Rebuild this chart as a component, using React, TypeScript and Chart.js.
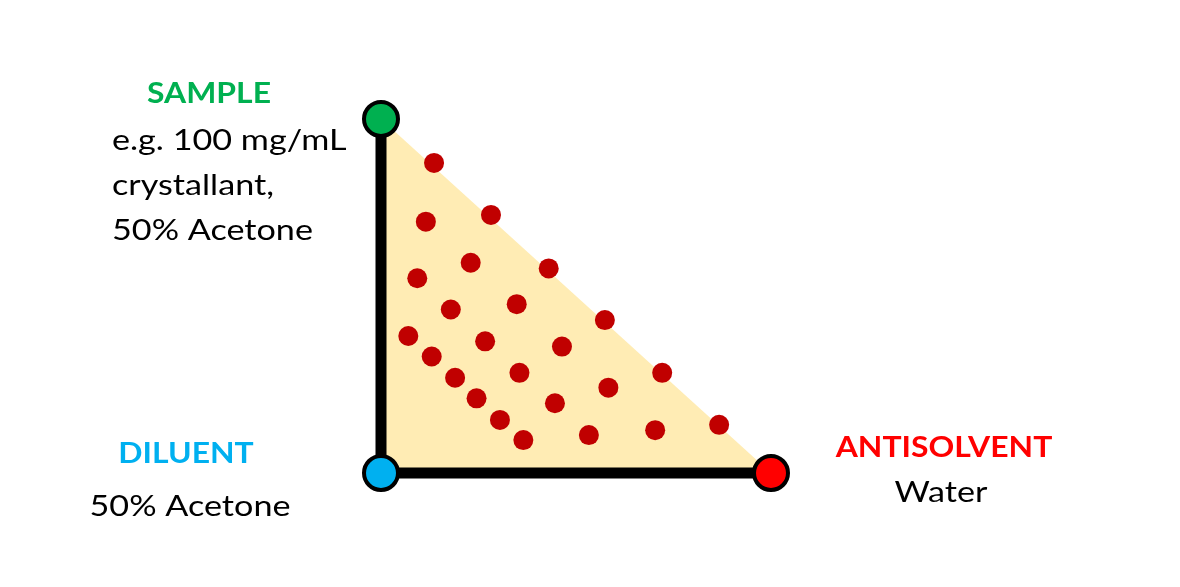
import React, { useEffect, useRef } from 'react';
import { Chart, registerables } from 'chart.js';

Chart.register(...registerables);

// corners of the design space: x = antisolvent fraction, y = sample fraction
const cornerNames = ['SAMPLE', 'DILUENT', 'ANTISOLVENT'];
const cornerX = [0, 0, 1];
const cornerY = [1, 0, 0];
const cornerColors = ['#00B050', '#00B0F0', '#FF0000'];

// screening conditions (antisolvent fraction, sample fraction)
const sampleX = [0.136, 0.115, 0.282, 0.093, 0.23, 0.43, 0.179, 0.348, 0.574, 0.07, 0.267, 0.464,
  0.13, 0.355, 0.721, 0.19, 0.583, 0.245, 0.446, 0.305, 0.867, 0.365, 0.533, 0.703];
const sampleY = [0.876, 0.71, 0.729, 0.55, 0.594, 0.578, 0.462, 0.477, 0.432, 0.387, 0.372, 0.357,
  0.329, 0.283, 0.283, 0.269, 0.241, 0.211, 0.197, 0.15, 0.136, 0.093, 0.107, 0.121];

const labels = [
  { text: cornerNames[0], x: 209, y: 103, color: '#00B050', bold: true, align: 'center' },
  { text: 'e.g. 100 mg/mL', x: 112, y: 150, color: '#000', bold: false, align: 'left' },
  { text: 'crystallant,', x: 112, y: 195, color: '#000', bold: false, align: 'left' },
  { text: '50% Acetone', x: 112, y: 240, color: '#000', bold: false, align: 'left' },
  { text: cornerNames[1], x: 186, y: 463, color: '#00B0F0', bold: true, align: 'center' },
  { text: '50% Acetone', x: 190, y: 516, color: '#000', bold: false, align: 'center' },
  { text: cornerNames[2], x: 944, y: 457, color: '#FF0000', bold: true, align: 'center' },
  { text: 'Water', x: 941, y: 502, color: '#000', bold: false, align: 'center' },
];

const textPlugin = {
  id: 'cornerText',
  afterDraw(chart: Chart) {
    const ctx = chart.ctx;
    labels.forEach((l) => {
      ctx.save();
      ctx.font = (l.bold ? 'bold 29px' : '28px') + ' Lato, sans-serif';
      ctx.fillStyle = l.color;
      ctx.textAlign = l.align as CanvasTextAlign;
      ctx.textBaseline = 'alphabetic';
      // the source lettering is set wider than Lato
      ctx.translate(l.x, l.y);
      ctx.scale(l.bold ? 1.1 : 1.22, 1);
      ctx.fillText(l.text, 0, 0);
      ctx.restore();
    });
  },
};

const App: React.FC = () => {
  const chartRef = useRef<HTMLCanvasElement | null>(null);
  const chartInstance = useRef<Chart | null>(null);

  useEffect(() => {
    const ctx = chartRef.current?.getContext('2d');
    if (chartInstance.current) {
      chartInstance.current.destroy();
    }
    if (ctx) {
      chartInstance.current = new Chart(ctx, {
        type: 'scatter',
        data: {
          datasets: [
            {
              label: 'Stocks',
              data: cornerX.map((x, i) => ({ x, y: cornerY[i] })),
              pointRadius: 17,
              pointBackgroundColor: cornerColors,
              pointBorderColor: '#000',
              pointBorderWidth: 4,
              clip: false,
            },
            {
              label: 'Conditions',
              data: sampleX.map((x, i) => ({ x, y: sampleY[i] })),
              pointRadius: 10,
              pointBackgroundColor: '#C00000',
              pointBorderWidth: 0,
              clip: false,
            },
            {
              label: 'Axes',
              data: [{ x: 1, y: 0 }, { x: 0, y: 0 }, { x: 0, y: 1 }],
              showLine: true,
              borderColor: '#000',
              borderWidth: 11,
              pointRadius: 0,
              clip: false,
            },
            {
              label: 'Space',
              data: [{ x: 0, y: 1 }, { x: 1, y: 0 }],
              showLine: true,
              fill: 'origin',
              backgroundColor: '#FFECB4',
              borderWidth: 0,
              pointRadius: 0,
              clip: false,
            },
          ],
        },
        options: {
          animation: false,
          responsive: true,
          maintainAspectRatio: false,
          layout: { padding: { left: 381, right: 409, top: 119, bottom: 114 } },
          scales: {
            x: { type: 'linear', min: 0, max: 1, display: false },
            y: { type: 'linear', min: 0, max: 1, display: false },
          },
          plugins: {
            legend: { display: false },
            tooltip: { enabled: false },
          },
        },
        plugins: [textPlugin],
      });
    }
    return () => {
      if (chartInstance.current) {
        chartInstance.current.destroy();
        chartInstance.current = null;
      }
    };
  }, []);

  return (
    <div style={{ position: 'fixed', left: 0, top: 0, width: 1180, height: 587, background: '#fff' }}>
      <canvas ref={chartRef} />
    </div>
  );
};

export default App;
